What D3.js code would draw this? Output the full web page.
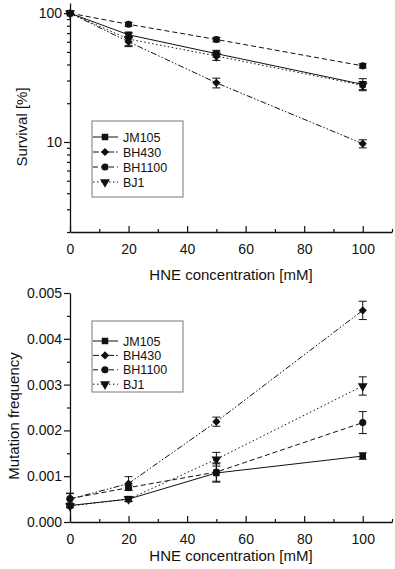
<!DOCTYPE html>
<html>
<head>
<meta charset="utf-8">
<script src="https://cdn.jsdelivr.net/npm/d3@7"></script>
<style>
  body { margin: 0; background: #fff; }
  svg text { font-family: "Liberation Sans", Arial, sans-serif; fill: #111; }
</style>
</head>
<body>
<svg id="chart" width="395" height="569"></svg>
<script>
// doses (x values) and strain names
const doses = [0, 20, 50, 100];
const strains = ["JM105", "BH430", "BH1100", "BJ1"];

// survival [%] per strain, with error bars
const survivalJM105 = [100, 68, 48.5, 28];
const survivalBH430 = [100, 60, 28.8, 9.7];
const survivalBH1100 = [100, 82, 62.5, 39];
const survivalBJ1 = [100, 63, 46.5, 27.5];
const survivalErrJM105 = [0, 3, 3, 3];
const survivalErrBH430 = [0, 5, 2.5, 0.7];
const survivalErrBH1100 = [0, 3, 2.5, 1.5];
const survivalErrBJ1 = [0, 7, 3.5, 2];

// mutation frequency per strain, with error bars
const mutJM105 = [0.00036, 0.0005, 0.00107, 0.00144];
const mutBH430 = [0.0005, 0.00084, 0.00219, 0.00462];
const mutBH1100 = [0.00051, 0.00075, 0.00109, 0.00217];
const mutBJ1 = [0.00035, 0.0005, 0.00137, 0.00297];
const mutErrJM105 = [0.00003, 0.00005, 0.0002, 0.00007];
const mutErrBH430 = [0.00012, 0.00015, 0.0001, 0.0002];
const mutErrBH1100 = [0.00012, 0.00005, 0.0002, 0.00024];
const mutErrBJ1 = [0.00003, 0.00005, 0.00015, 0.0002];

// tick labels
const xTicks = [0, 20, 40, 60, 80, 100];
const xMinor = [10, 30, 50, 70, 90, 110];
const survTicks = [10, 100];
const survMinor = [2, 3, 4, 5, 6, 7, 8, 9, 20, 30, 40, 50, 60, 70, 80, 90];
const mutTicks = [0, 0.001, 0.002, 0.003, 0.004, 0.005];
const mutMinor = [0.0005, 0.0015, 0.0025, 0.0035, 0.0045];

// diamond = square turned 45 degrees
const styles = {
  JM105:  { dash: null, symbol: d3.symbolSquare, size: 42, rot: 0 },
  BH430:  { dash: "6,2,1.5,2,1.5,2", symbol: d3.symbolSquare, size: 34, rot: 45 },
  BH1100: { dash: "5,3", symbol: d3.symbolCircle, size: 40, rot: 0 },
  BJ1:    { dash: "1.5,2.5", symbol: d3.symbolTriangle, size: 42, rot: 180 }
};

const survSeries = [
  { name: "JM105", v: survivalJM105, e: survivalErrJM105 },
  { name: "BH430", v: survivalBH430, e: survivalErrBH430 },
  { name: "BH1100", v: survivalBH1100, e: survivalErrBH1100 },
  { name: "BJ1", v: survivalBJ1, e: survivalErrBJ1 }
];
const mutSeries = [
  { name: "JM105", v: mutJM105, e: mutErrJM105 },
  { name: "BH430", v: mutBH430, e: mutErrBH430 },
  { name: "BH1100", v: mutBH1100, e: mutErrBH1100 },
  { name: "BJ1", v: mutBJ1, e: mutErrBJ1 }
];

const svg = d3.select("#chart");
const ink = "#111";

function drawPanel(opt) {
  const g = svg.append("g");
  const x = d3.scaleLinear().domain([0, 110]).range([70, 392]);
  const y = opt.y;

  // x axis, ticks pointing inward
  g.append("g")
    .attr("transform", `translate(0,${opt.y0})`)
    .call(d3.axisBottom(x).tickValues(xTicks).tickSizeInner(-6).tickSizeOuter(0).tickPadding(12))
    .call(a => a.selectAll("text").attr("font-size", "14px").attr("fill", ink))
    .call(a => a.select(".domain").attr("stroke", ink).attr("stroke-width", 1.3));
  g.append("g")
    .attr("transform", `translate(0,${opt.y0})`)
    .call(d3.axisBottom(x).tickValues(xMinor).tickSizeInner(-3).tickSizeOuter(0).tickFormat(""))
    .call(a => a.select(".domain").remove());

  // y axis
  g.append("g")
    .attr("transform", "translate(70,0)")
    .call(d3.axisLeft(y).tickValues(opt.ticks).tickSizeInner(6).tickSizeOuter(0).tickPadding(2).tickFormat(opt.fmt))
    .call(a => a.selectAll("text").attr("font-size", "14px").attr("fill", ink))
    .call(a => a.select(".domain").attr("stroke", ink).attr("stroke-width", 1.3));
  g.append("g")
    .attr("transform", "translate(70,0)")
    .call(d3.axisLeft(y).tickValues(opt.minor).tickSizeInner(3).tickSizeOuter(0).tickFormat(""))
    .call(a => a.select(".domain").remove());

  g.selectAll(".tick line").attr("stroke", ink).attr("stroke-width", 1.2);

  // axis titles
  g.append("text")
    .attr("x", 231).attr("y", opt.titleY)
    .attr("text-anchor", "middle").attr("font-size", "15px")
    .text("HNE concentration [mM]");
  g.append("text")
    .attr("transform", `translate(${opt.yTitleX},${opt.yTitleMid}) rotate(-90)`)
    .attr("text-anchor", "middle").attr("font-size", "15px")
    .text(opt.yTitle);

  const line = d3.line().x((d, i) => x(doses[i])).y(d => y(d));

  opt.series.forEach(s => {
    const st = styles[s.name];
    const sg = g.append("g");
    sg.append("path")
      .attr("d", line(s.v))
      .attr("fill", "none").attr("stroke", ink).attr("stroke-width", 1)
      .attr("stroke-dasharray", st.dash);
    // error bars
    s.v.forEach((v, i) => {
      if (!s.e[i]) return;
      const cx = x(doses[i]);
      const y1 = y(v - s.e[i]), y2 = y(v + s.e[i]);
      sg.append("line").attr("x1", cx).attr("x2", cx).attr("y1", y1).attr("y2", y2)
        .attr("stroke", ink).attr("stroke-width", 1);
      [y1, y2].forEach(yy => {
        sg.append("line").attr("x1", cx - 4).attr("x2", cx + 4).attr("y1", yy).attr("y2", yy)
          .attr("stroke", ink).attr("stroke-width", 1);
      });
    });
    sg.selectAll("path.mk")
      .data(s.v)
      .enter()
      .append("path")
      .attr("class", "mk")
      .attr("d", d3.symbol().type(st.symbol).size(st.size))
      .attr("transform", (d, i) => `translate(${x(doses[i])},${y(d)}) rotate(${st.rot})`)
      .attr("fill", ink);
  });

  // legend
  const lg = g.append("g");
  lg.append("rect")
    .attr("x", 92).attr("y", opt.legTop).attr("width", 91).attr("height", opt.legH)
    .attr("fill", "#fff").attr("stroke", "#777").attr("stroke-width", 1);
  strains.forEach((name, i) => {
    const st = styles[name];
    const ly = opt.legFirst + i * opt.legStep;
    lg.append("line")
      .attr("x1", 93).attr("x2", 118).attr("y1", ly).attr("y2", ly)
      .attr("stroke", ink).attr("stroke-width", 1).attr("stroke-dasharray", st.dash);
    lg.append("path")
      .attr("d", d3.symbol().type(st.symbol).size(st.size))
      .attr("transform", `translate(105,${ly}) rotate(${st.rot})`)
      .attr("fill", ink);
    lg.append("text")
      .attr("x", 123).attr("y", ly + 4.5)
      .attr("font-size", "12.5px")
      .text(name);
  });
}

drawPanel({
  y: d3.scaleLog().domain([2, 120]).range([232, 3]),
  y0: 232,
  ticks: survTicks,
  minor: survMinor,
  fmt: d3.format("d"),
  series: survSeries,
  titleY: 280,
  yTitle: "Survival [%]",
  yTitleX: 27,
  yTitleMid: 127,
  legTop: 121, legH: 76, legFirst: 137, legStep: 15
});

drawPanel({
  y: d3.scaleLinear().domain([0, 0.005]).range([522, 293]),
  y0: 522,
  ticks: mutTicks,
  minor: mutMinor,
  fmt: d3.format(".3f"),
  series: mutSeries,
  titleY: 561,
  yTitle: "Mutation frequency",
  yTitleX: 19,
  yTitleMid: 416,
  legTop: 321, legH: 71, legFirst: 341, legStep: 14.4
});
</script>
</body>
</html>
